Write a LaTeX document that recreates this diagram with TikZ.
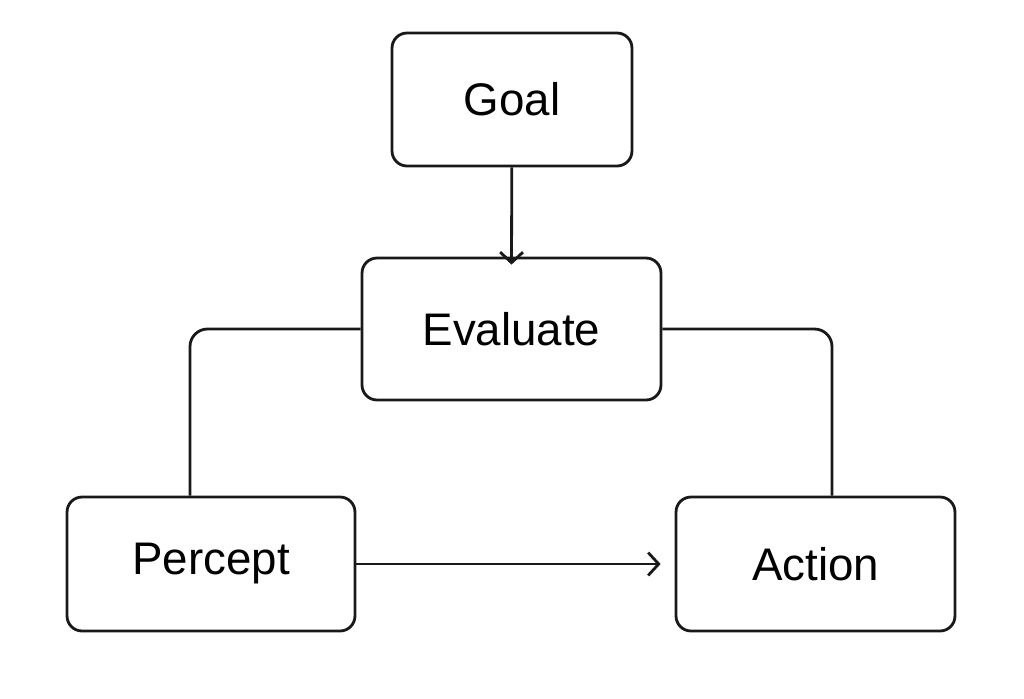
\documentclass[tikz,border=0pt]{standalone}
\usepackage{fontspec}
\setmainfont{Liberation Sans}
\usetikzlibrary{arrows.meta}

\begin{document}
\begin{tikzpicture}[x=0.02cm,y=-0.02cm,line width=1.6pt,draw=black!90]
    \tikzstyle{block}=[draw,rounded corners=0.3cm,inner sep=0pt,font=\fontsize{26}{30}\selectfont]
    \tikzstyle{link}=[rounded corners=0.35cm]
    \tikzstyle{flow}=[-{Straight Barb[length=6pt,width=13pt]}]

    \useasboundingbox (0,0) rectangle (1024,698);

    % Draw the boxes
    \node[block,minimum width=4.8cm,minimum height=2.66cm] (goal) at (512,99.5) {Goal};
    \node[block,minimum width=5.98cm,minimum height=2.84cm] (eval) at (511.5,329) {Evaluate};
    \node[block,minimum width=5.76cm,minimum height=2.68cm] (percept) at (211,564) {Percept};
    \node[block,minimum width=5.58cm,minimum height=2.68cm] (action) at (815.5,564) {Action};

    % Connect the boxes
    \draw[flow] (goal) -- ([yshift=-0.16cm]eval.north);
    \draw[link] (eval.west) -| (percept.north -| 190,0);
    \draw[link] (eval.east) -| (action.north -| 832,0);
    \draw[flow] (percept.east) -- ([xshift=-0.28cm]action.west);
\end{tikzpicture}
\end{document}
